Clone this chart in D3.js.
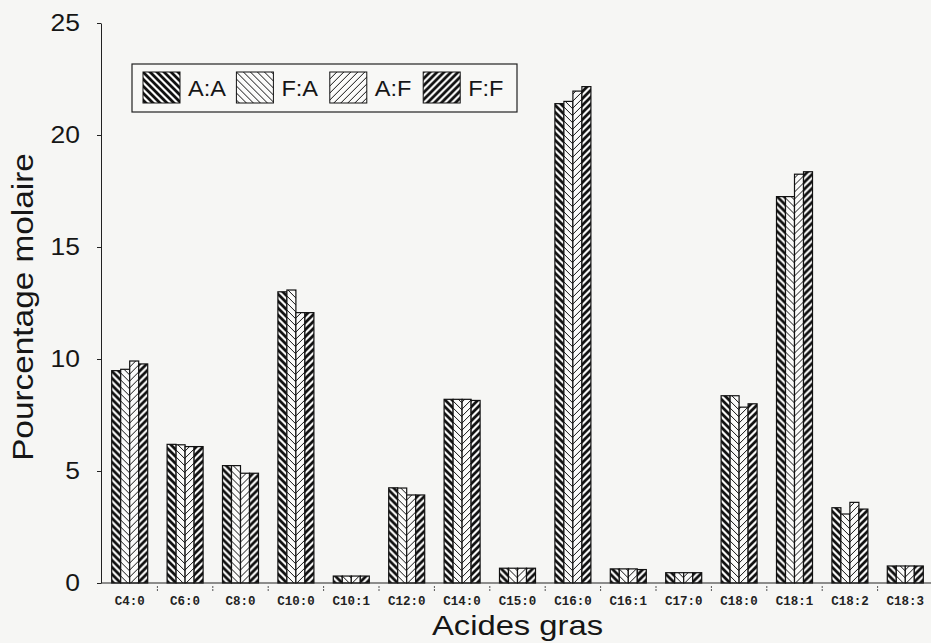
<!DOCTYPE html>
<html>
<head>
<meta charset="utf-8">
<script src="https://cdn.jsdelivr.net/npm/d3@7"></script>
<style>
  body { margin: 0; background: #f6f6f4; }
  svg { display: block; }
</style>
</head>
<body>
<script>
// catégories et séries
const categories = ["C4:0", "C6:0", "C8:0", "C10:0", "C10:1", "C12:0", "C14:0", "C15:0",
  "C16:0", "C16:1", "C17:0", "C18:0", "C18:1", "C18:2", "C18:3"];
const seriesNames = ["A:A", "F:A", "A:F", "F:F"];
const valuesAA = [9.48, 6.19, 5.24, 13.0, 0.31, 4.25, 8.2, 0.66, 21.4, 0.63, 0.46, 8.36, 17.25, 3.36, 0.76];
const valuesFA = [9.54, 6.17, 5.24, 13.08, 0.31, 4.24, 8.2, 0.66, 21.5, 0.63, 0.46, 8.36, 17.25, 3.08, 0.76];
const valuesAF = [9.91, 6.09, 4.9, 12.07, 0.31, 3.93, 8.2, 0.66, 21.96, 0.63, 0.46, 7.85, 18.25, 3.6, 0.76];
const valuesFF = [9.78, 6.09, 4.9, 12.07, 0.31, 3.93, 8.15, 0.66, 22.16, 0.6, 0.46, 8.0, 18.36, 3.3, 0.76];
const yTicks = [0, 5, 10, 15, 20, 25];

const allValues = [valuesAA, valuesFA, valuesAF, valuesFF];

const width = 931;
const height = 643;
const margin = { left: 102, right: -2, top: 23, bottom: 60 };
const fontMain = "Liberation Sans, Arial, sans-serif";

let svg = d3.select("body").append("svg")
  .attr("width", width)
  .attr("height", height);

// le scan est un peu étiré horizontalement -> on étire le texte pareil
function stretch(sel, factor) {
  sel.each(function () {
    let len = this.getComputedTextLength();
    d3.select(this)
      .attr("textLength", len * factor)
      .attr("lengthAdjust", "spacingAndGlyphs");
  });
}

// motifs hachurés
let defs = svg.append("defs");
const patternDefs = [
  { id: "pAA", dir: "back", sw: 2.8 },
  { id: "pFA", dir: "back", sw: 1.0 },
  { id: "pAF", dir: "fwd", sw: 1.0 },
  { id: "pFF", dir: "fwd", sw: 2.8 }
];
patternDefs.forEach((p) => {
  let s = 7;
  let pat = defs.append("pattern")
    .attr("id", p.id)
    .attr("patternUnits", "userSpaceOnUse")
    .attr("width", s)
    .attr("height", s);
  pat.append("rect").attr("width", s).attr("height", s).attr("fill", "#fbfbfa");
  let d = p.dir === "back"
    ? `M${-s},0 L${2 * s},${3 * s} M${-s},${-s} L${2 * s},${2 * s} M0,${-s} L${2 * s},${s}`
    : `M${-s},${s} L${s},${-s} M${-s},${2 * s} L${2 * s},${-s} M0,${2 * s} L${2 * s},0`;
  pat.append("path")
    .attr("d", d)
    .attr("stroke", "#111")
    .attr("stroke-width", p.sw)
    .attr("stroke-linecap", "square");
});

let x = d3.scaleBand()
  .domain(categories)
  .range([margin.left, width - margin.right])
  .paddingInner(0.35)
  .paddingOuter(0.175);

let xSub = d3.scaleBand()
  .domain(seriesNames)
  .range([0, x.bandwidth()]);

let y = d3.scaleLinear()
  .domain([0, 25])
  .range([height - margin.bottom, margin.top]);

// barres
let groups = svg.selectAll(".cat")
  .data(categories)
  .enter()
  .append("g")
  .attr("class", "cat")
  .attr("transform", (d) => `translate(${x(d)},0)`);

groups.selectAll("rect")
  .data((d, i) => seriesNames.map((s, j) => ({ s: s, j: j, v: allValues[j][i] })))
  .enter()
  .append("rect")
  .attr("x", (d) => xSub(d.s))
  .attr("y", (d) => y(d.v))
  .attr("width", xSub.bandwidth())
  .attr("height", (d) => y(0) - y(d.v))
  .attr("fill", (d) => `url(#${patternDefs[d.j].id})`)
  .attr("stroke", "#111")
  .attr("stroke-width", 1.2);

// axe Y
let yAxis = svg.append("g")
  .attr("transform", `translate(${margin.left - 1},0)`)
  .call(d3.axisLeft(y).tickValues(yTicks).tickSize(4).tickSizeOuter(0).tickPadding(17));
yAxis.select(".domain").attr("stroke", "#222");
yAxis.selectAll("line").attr("stroke", "#222");
yAxis.selectAll("text")
  .style("font-family", fontMain)
  .style("font-size", "23px")
  .attr("fill", "#161616")
  .call(stretch, 1.15);

// axe X
svg.append("line")
  .attr("x1", margin.left - 1)
  .attr("x2", width)
  .attr("y1", y(0))
  .attr("y2", y(0))
  .attr("stroke", "#222")
  .attr("stroke-width", 1.2);

let step = x.step();
svg.selectAll(".btick")
  .data(categories.slice(1))
  .enter()
  .append("line")
  .attr("class", "btick")
  .attr("x1", (d) => x(d) - (step - x.bandwidth()) / 2)
  .attr("x2", (d) => x(d) - (step - x.bandwidth()) / 2)
  .attr("y1", y(0) + 3)
  .attr("y2", y(0) + 9)
  .attr("stroke", "#555")
  .attr("stroke-width", 1)
  .attr("stroke-dasharray", "2,1");

svg.selectAll(".xlabel")
  .data(categories)
  .enter()
  .append("text")
  .attr("class", "xlabel")
  .attr("x", (d) => x(d) + x.bandwidth() / 2)
  .attr("y", y(0) + 22)
  .attr("text-anchor", "middle")
  .style("font-family", "Liberation Mono, DejaVu Sans Mono, monospace")
  .style("font-size", "12.5px")
  .style("font-weight", "bold")
  .attr("fill", "#222")
  .text((d) => d);

// titres
svg.append("text")
  .attr("x", (x.range()[0] + x.range()[1]) / 2)
  .attr("y", 635)
  .attr("text-anchor", "middle")
  .style("font-family", fontMain)
  .style("font-size", "28px")
  .attr("fill", "#161616")
  .text("Acides gras")
  .call(stretch, 1.17);

svg.append("text")
  .attr("transform", "translate(33,307) rotate(-90)")
  .attr("text-anchor", "middle")
  .style("font-family", fontMain)
  .style("font-size", "29px")
  .attr("fill", "#161616")
  .text("Pourcentage molaire")
  .call(stretch, 1.15);

// légende
let legend = svg.append("g").attr("class", "legend");
legend.append("rect")
  .attr("x", 132)
  .attr("y", 64)
  .attr("width", 385)
  .attr("height", 48)
  .attr("fill", "#f8f8f6")
  .attr("stroke", "#222")
  .attr("stroke-width", 1.2);

let items = legend.selectAll(".item")
  .data(seriesNames)
  .enter()
  .append("g")
  .attr("class", "item")
  .attr("transform", (d, i) => `translate(${143 + i * 93.4},72)`);

items.append("rect")
  .attr("width", 37)
  .attr("height", 31)
  .attr("fill", (d, i) => `url(#${patternDefs[i].id})`)
  .attr("stroke", "#111")
  .attr("stroke-width", 1);

items.append("text")
  .attr("x", 45)
  .attr("y", 24)
  .style("font-family", fontMain)
  .style("font-size", "22px")
  .attr("fill", "#161616")
  .text((d) => d)
  .call(stretch, 1.07);
</script>
</body>
</html>
